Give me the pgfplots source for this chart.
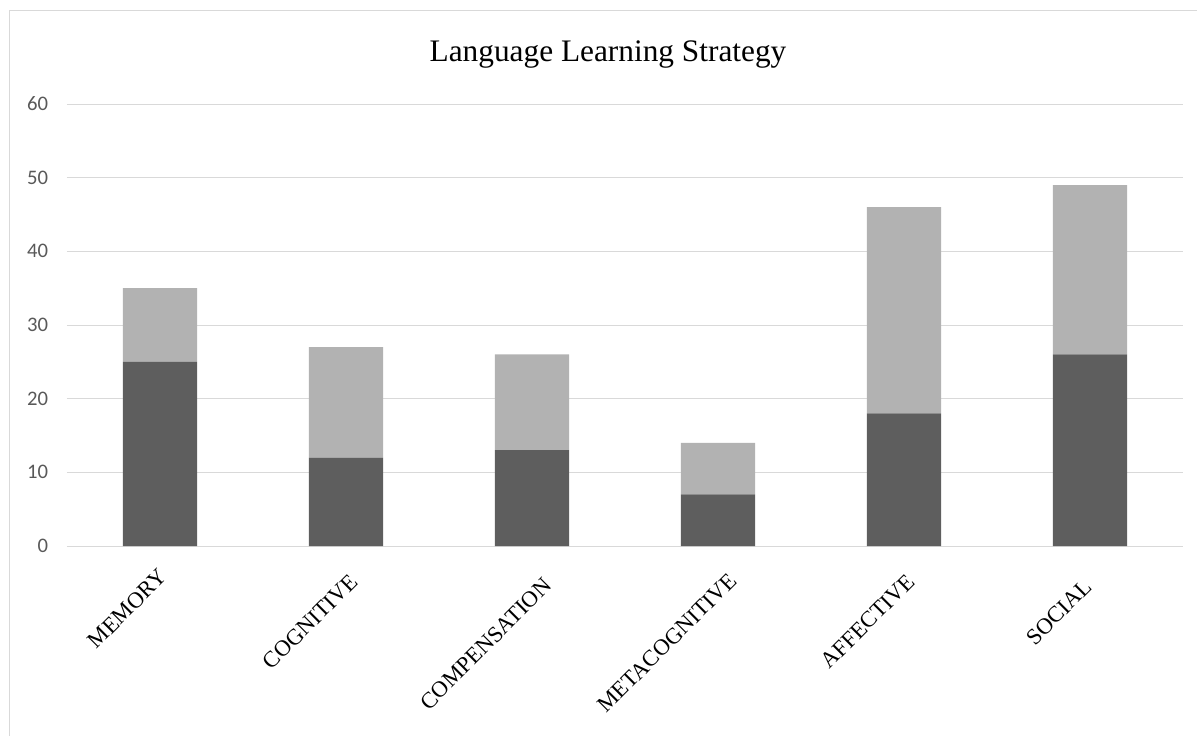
\documentclass[border=0pt]{standalone}
\usepackage{pgfplots}
\pgfplotsset{compat=1.18}
\usepackage{pgfplotstable}
\usepackage{fontspec}
\setmainfont{Liberation Serif}
\newfontfamily\tickfont{Carlito}

\definecolor{darkbar}{HTML}{5E5E5E}
\definecolor{lightbar}{HTML}{B2B2B2}
\definecolor{gridgray}{HTML}{D9D9D9}
\definecolor{tickgray}{HTML}{595959}

% counts per strategy: lower (dark) and upper (light) part of each bar
\pgfplotstableread{
x lower upper
0 25 10
1 12 15
2 13 13
3 7  7
4 18 28
5 26 23
}\strategies

\tikzset{catlabel/.style={font=\fontsize{17}{20}\selectfont, inner sep=0pt}}

\begin{document}
\begin{tikzpicture}
\useasboundingbox (0,0) rectangle (897.75pt,552pt);
\draw[gridgray, line width=0.75pt] (6.75pt,0) -- (6.75pt,543.75pt) -- (897.75pt,543.75pt);
\node[anchor=base, font=\fontsize{23.5}{28}\selectfont] at (456pt,505.5pt) {Language Learning Strategy};
\begin{axis}[
  at={(50.25pt,142.5pt)}, anchor=south west,
  scale only axis, width=837pt, height=331.5pt,
  ybar stacked, bar width=0.4,
  xmin=-0.5, xmax=5.5, ymin=0, ymax=60,
  ytick={0,10,...,60},
  xtick=data, xticklabels={},
  axis line style={draw=none},
  major tick length=0pt,
  ymajorgrids, grid style={gridgray, line width=0.75pt},
  /pgf/number format/assume math mode=true,
  yticklabel style={font=\tickfont\fontsize{15.5}{18}\selectfont, text=tickgray, inner sep=0pt, xshift=-14pt},
  clip=false,
]
\addplot[fill=darkbar, draw=none] table[x=x, y=lower] {\strategies};
\addplot[fill=lightbar, draw=none] table[x=x, y=upper] {\strategies};
% category names, rotated as in the original
\node[catlabel, xshift=2.25pt, yshift=-20.25pt, rotate=45, anchor=east] at (axis cs:0,0) {MEMORY};
\node[catlabel, xshift=6pt, yshift=-24pt, rotate=45, anchor=east] at (axis cs:1,0) {COGNITIVE};
\node[catlabel, xshift=12pt, yshift=-27pt, rotate=45, anchor=east] at (axis cs:2,0) {COMPENSATION};
\node[catlabel, xshift=11.25pt, yshift=-23.25pt, rotate=45, anchor=east] at (axis cs:3,0) {METACOGNITIVE};
\node[catlabel, xshift=5.25pt, yshift=-24pt, rotate=45, anchor=east] at (axis cs:4,0) {AFFECTIVE};
\node[catlabel, xshift=-1.5pt, yshift=-27.75pt, rotate=45, anchor=east] at (axis cs:5,0) {SOCIAL};
\end{axis}
\end{tikzpicture}
\end{document}
